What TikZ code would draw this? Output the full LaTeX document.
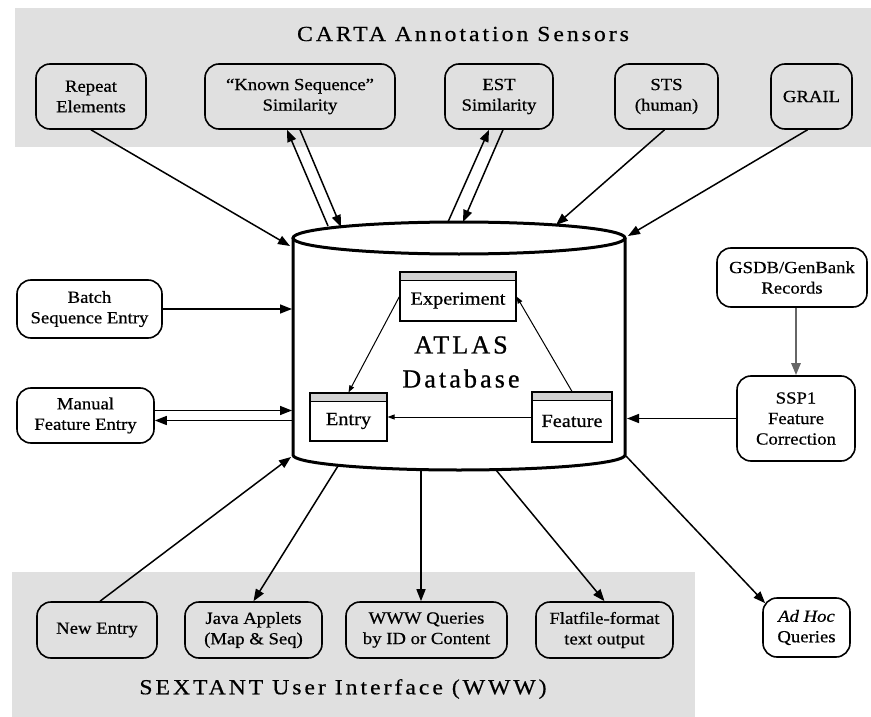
\documentclass[tikz,border=0pt]{standalone}
\usepackage{fontspec}
\setmainfont{Liberation Serif}
\newfontfamily\boxfont{Liberation Serif}[FakeStretch=1.1,FakeBold=0.6]
\newfontfamily\titlefont{Liberation Serif}[FakeStretch=1.1,LetterSpace=14,FakeBold=0.5]
\newfontfamily\atlasfont{Liberation Serif}[LetterSpace=12,FakeBold=0.8]
\usetikzlibrary{arrows.meta,calc}
\definecolor{band}{RGB}{224,224,224}
\begin{document}
\begin{tikzpicture}[x=1pt,y=-1pt,
  box/.style={draw,line width=1.6pt,rounded corners=14pt,align=center,
    font=\boxfont\fontsize{17}{20.5}\selectfont,inner sep=0pt},
  cls/.style={draw,line width=1.1pt,inner sep=0pt,font=\boxfont\fontsize{18.5}{20}\selectfont,
    path picture={\fill[gray!35] (path picture bounding box.north west) rectangle ([yshift=-8pt]path picture bounding box.north east);
      \draw[line width=0.8pt] ([yshift=-8pt]path picture bounding box.north west) -- ([yshift=-8pt]path picture bounding box.north east);}},
  arr/.style={line width=1.5pt,-{Triangle[length=12pt,width=9pt]}},
  rarr/.style={line width=1.5pt,{Triangle[length=12pt,width=9pt]}-},
  iarr/.style={line width=1pt,-{Triangle[length=7pt,width=5pt]}},
  cyl/.style={line width=3pt},
  ttl/.style={font=\titlefont\fontsize{21.5}{24}\selectfont}]
\useasboundingbox (0,0) rectangle (871,717);
% bands
\fill[band] (15,8) rectangle (871,147);
\fill[band] (12,572) rectangle (695,717);
\node[ttl] (carta) at (463,34) {CARTA Annotation Sensors};
\node[ttl] (sextant) at (343,689) {SEXTANT User Interface (WWW)};
% top boxes
\node[box,minimum width=110pt,minimum height=65pt] (rep) at (91,96.5) {Repeat\\Elements};
\node[box,minimum width=190pt,minimum height=65pt] (kno) at (300,96.5) {“Known Sequence”\\Similarity};
\node[box,minimum width=108pt,minimum height=65pt] (est) at (499,96.5) {EST\\Similarity};
\node[box,minimum width=103pt,minimum height=65pt] (sts) at (666.5,96.5) {STS\\(human)};
\node[box,minimum width=81pt,minimum height=65pt] (grail) at (811.5,96.5) {GRAIL};
% left / right boxes
\node[box,minimum width=145pt,minimum height=58pt] (batch) at (89.5,309) {Batch\\Sequence Entry};
\node[box,minimum width=137pt,minimum height=55pt] (manual) at (85.5,415.5) {Manual\\Feature Entry};
\node[box,minimum width=150pt,minimum height=59pt] (gsdb) at (792,277.5) {GSDB/GenBank\\Records};
\node[box,minimum width=118pt,minimum height=85pt] (ssp) at (796,418.5) {SSP1\\Feature\\Correction};
% bottom boxes
\node[box,minimum width=120pt,minimum height=56pt] (newe) at (97,630) {New Entry};
\node[box,minimum width=137pt,minimum height=56pt] (java) at (253.5,630) {Java Applets\\(Map \& Seq)};
\node[box,minimum width=161pt,minimum height=56pt] (www) at (426.5,630) {WWW Queries\\by ID or Content};
\node[box,minimum width=137pt,minimum height=56pt] (flat) at (604.5,630) {Flatfile-format\\text output};
\node[box,minimum width=87pt,minimum height=59pt] (adhoc) at (806.5,627.5) {\textit{Ad Hoc}\\Queries};
% cylinder
\draw[cyl,fill=white] (293,238) -- (293,455) arc[start angle=180,end angle=0,x radius=166,y radius=15] -- (625,238);
\draw[cyl] (459,238) ellipse[x radius=166,y radius=16];
\node[font=\atlasfont\fontsize{26}{34}\selectfont,align=center] (atlas) at (461,362) {ATLAS\\Database};
% inner class boxes
\node[cls,minimum width=116pt,minimum height=49pt] (exp) at (458,296.5) {\raisebox{-4pt}[\height][\depth]{Experiment}};
\node[cls,minimum width=77pt,minimum height=48pt] (entry) at (348.5,417) {\raisebox{-4pt}[\height][\depth]{Entry}};
\node[cls,minimum width=80pt,minimum height=50pt] (feat) at (572,417) {\raisebox{-4pt}[\height][\depth]{Feature}};
\draw[iarr] (exp.west) -- (entry.north);
\draw[iarr] (feat.north) -- (exp.east);
\draw[iarr] (feat.west) -- (entry.east);
% cylinder connection points
\coordinate (cRep) at (290,246);
\coordinate (cK1) at (328,226);
\coordinate (cK2) at (341,227);
\coordinate (cE1) at (448,222);
\coordinate (cE2) at (463,222);
\coordinate (cSts) at (556,225);
\coordinate (cGr) at (628,236);
\coordinate (cL) at (292,300);
\coordinate (cR) at (627,300);
\coordinate (cNew) at (291,457);
\coordinate (cJava) at (338,466);
\coordinate (cWww) at (421,470);
\coordinate (cFlat) at (496,470);
\coordinate (cAd) at (626,456);
% top connectors
\draw[arr] (rep.south) -- (cRep);
\draw[rarr] ([xshift=-13pt]kno.south) -- (cK1);
\draw[arr] (kno.south) -- (cK2);
\draw[rarr] ([xshift=-10pt]est.south) -- (cE1);
\draw[arr] ([xshift=4pt]est.south) -- (cE2);
\draw[arr] ([xshift=-2pt]sts.south) -- (cSts);
\draw[arr] ([xshift=-4pt]grail.south) -- (cGr);
% left / right connectors
\draw[arr] (batch.east) -- (batch.east -| cL);
\draw[arr] ([yshift=5pt]manual.east) -- ([yshift=5pt]manual.east -| cL);
\draw[rarr] ([yshift=-5pt]manual.east) -- ([yshift=-5pt]manual.east -| cL);
\draw[arr] (ssp.west) -- (ssp.west -| cR);
\draw[line width=2.5pt,black!60,-{Triangle[length=12pt,width=9pt]}] (ssp.north |- gsdb.south) -- (ssp.north);
% bottom connectors
\draw[arr] ([xshift=3pt]newe.north) -- (cNew);
\draw[arr] (cJava) -- (java.north);
\draw[arr] (cWww) -- (cWww |- www.north);
\draw[arr] (cFlat) -- (flat.north);
\draw[arr] (cAd) -- ([xshift=3pt,yshift=-6pt]adhoc.north west);
\end{tikzpicture}
\end{document}
